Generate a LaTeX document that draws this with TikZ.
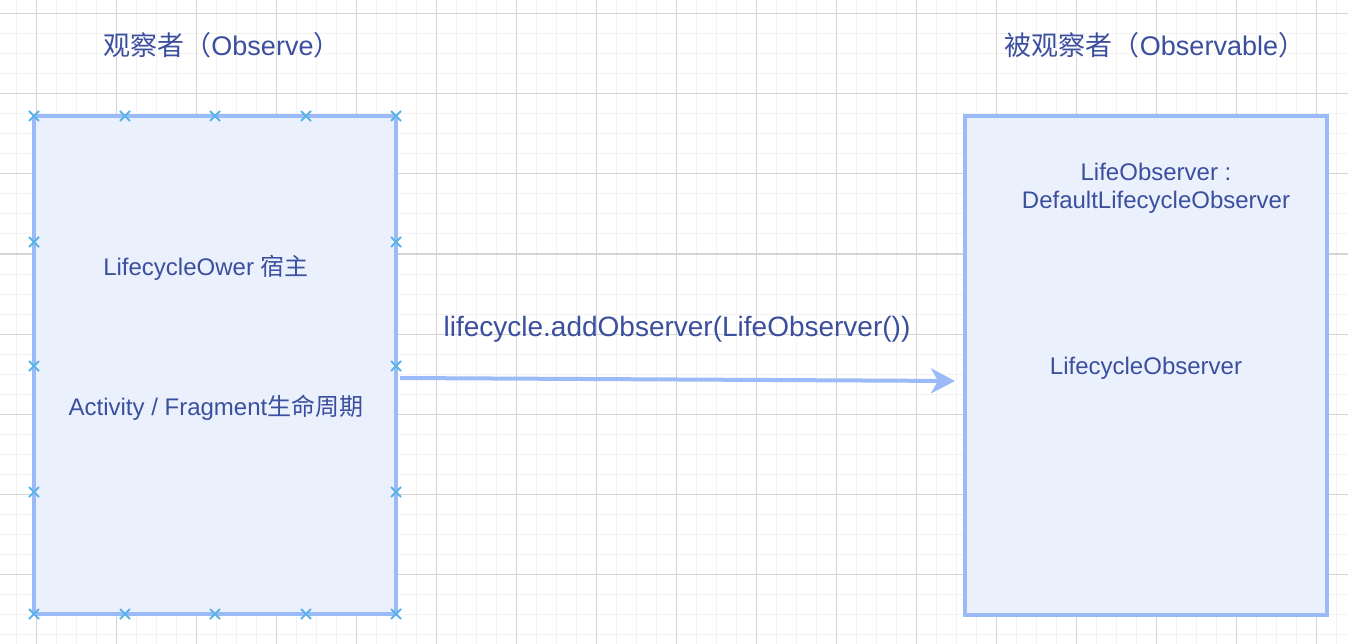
\documentclass[tikz,border=0pt]{standalone}
\usepackage{fontspec}
\setmainfont{Liberation Sans}
\newfontfamily\cjk{Noto Sans CJK SC}
\usetikzlibrary{arrows.meta}
\definecolor{gridminor}{HTML}{F2F2F2}
\definecolor{gridmajor}{HTML}{D4D4D4}
\definecolor{boxfill}{HTML}{EAF1FD}
\definecolor{boxline}{HTML}{9ABBF7}
\definecolor{txtcol}{HTML}{3B4F9E}
\definecolor{xmkcol}{HTML}{5DB3E9}
\tikzset{
  minorline/.style={draw=gridminor, line width=1pt},
  majorline/.style={draw=gridmajor, line width=1pt},
  obox/.style={draw=boxline, fill=boxfill, line width=4pt, minimum width=362pt, inner sep=0pt},
  xmk/.style={draw=xmkcol, line width=1.8pt},
  conn/.style={draw=boxline, line width=4pt, -{Stealth[length=24pt,width=25pt,inset=7pt]}},
  lbl/.style={text=txtcol, font=\fontsize{24}{28}\selectfont, align=center, inner sep=0pt},
  big/.style={text=txtcol, font=\fontsize{28}{32}\selectfont, inner sep=0pt},
  ttl/.style={text=txtcol, font=\fontsize{27}{32}\selectfont, inner sep=0pt}
}
\begin{document}
\begin{tikzpicture}[x=1pt,y=-1pt]
\useasboundingbox (0,0) rectangle (1348,644);
\fill[white] (0,0) rectangle (1348,644);
% grid
\foreach \gx in {16,36,...,1346} \draw[minorline] (\gx,0) -- (\gx,644);
\foreach \gy in {14,34,...,644} \draw[minorline] (0,\gy) -- (1348,\gy);
\foreach \gx in {36,116,...,1346} \draw[majorline] (\gx,0) -- (\gx,644);
\foreach \gy in {14,94,...,644} \draw[majorline] (0,\gy) -- (1348,\gy);
% boxes
\node[obox, minimum height=498pt] (owner) at (215,365) {};
\node[obox, minimum height=499pt] (observable) at (1146,365.5) {};
% selection crosses
\foreach \cx in {34,125,215,306,396} {
  \draw[xmk] (\cx-5,111) -- (\cx+5,121) (\cx-5,121) -- (\cx+5,111);
  \draw[xmk] (\cx-5,609) -- (\cx+5,619) (\cx-5,619) -- (\cx+5,609);
}
\foreach \cy in {242,366,492} {
  \draw[xmk] (29,\cy-5) -- (39,\cy+5) (29,\cy+5) -- (39,\cy-5);
  \draw[xmk] (391,\cy-5) -- (401,\cy+5) (391,\cy+5) -- (401,\cy-5);
}
% titles
\node[ttl] (t1) at (222,45) {{\cjk 观察者（}Observe{\cjk ）}};
\node[ttl] (t2) at (1155,45) {{\cjk 被观察者（}Observable{\cjk ）}};
% box texts
\node[lbl] (o1) at (206,268) {LifecycleOwer {\cjk 宿主}};
\node[lbl] (o2) at (216,408) {Activity / Fragment{\cjk 生命周期}};
\node[lbl] (r1) at (1156,188) {LifeObserver :\\DefaultLifecycleObserver};
\node[lbl] (r2) at (1146,368) {LifecycleObserver};
% connector
\coordinate (s) at (400,378);
\coordinate (e) at (955,381);
\draw[conn] (s) -- (e);
\node[big] (al) at (677,329) {lifecycle.addObserver(LifeObserver())};
\end{tikzpicture}
\end{document}
